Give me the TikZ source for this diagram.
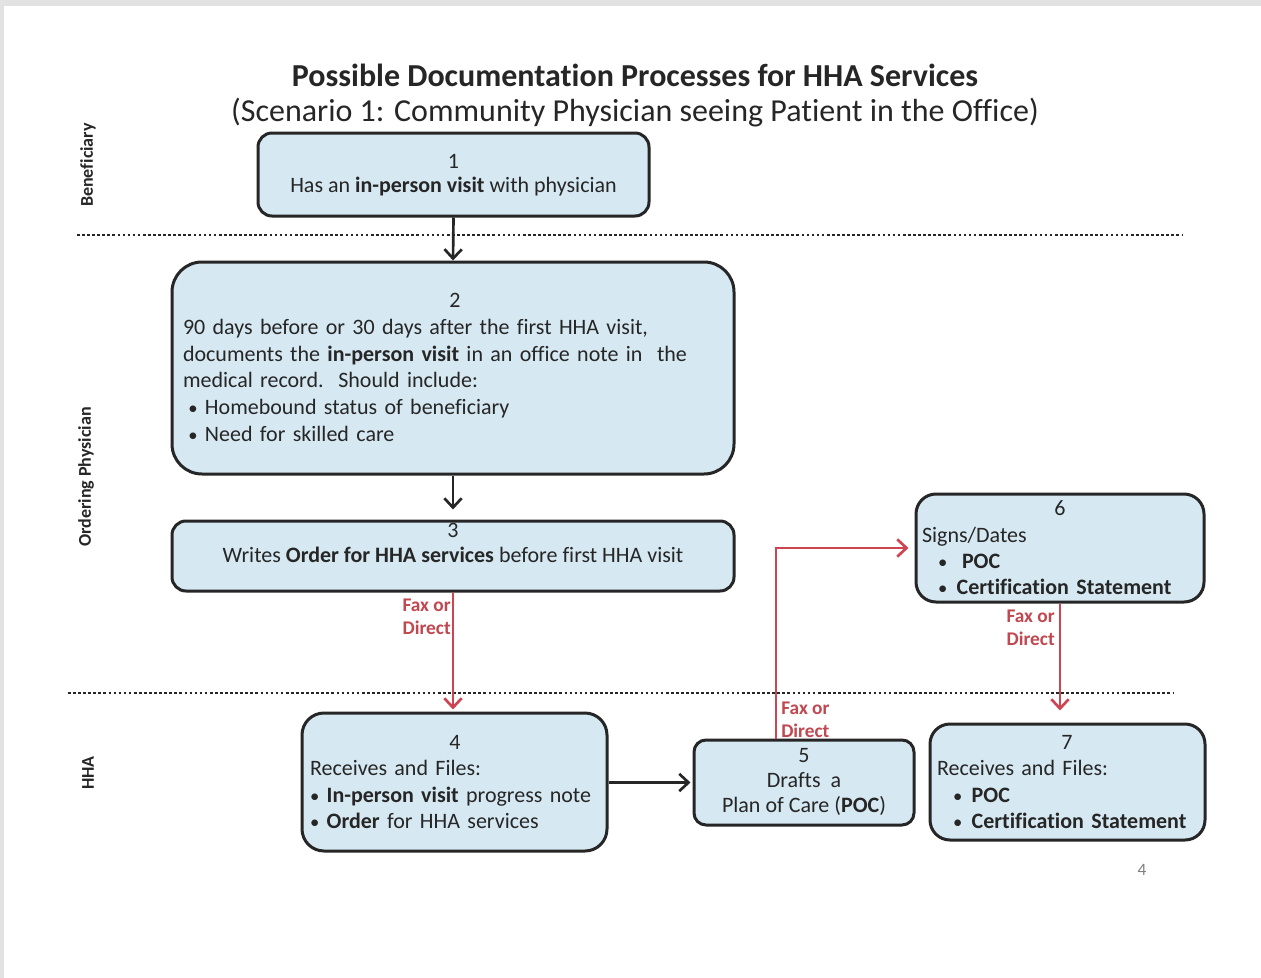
\documentclass[tikz,border=0pt]{standalone}
\usepackage{fontspec}
\setmainfont{Carlito}[Ligatures=NoCommon]
\usetikzlibrary{arrows.meta,calc}
\definecolor{boxfill}{RGB}{214,232,241}
\definecolor{boxline}{RGB}{38,38,38}
\definecolor{faxred}{RGB}{205,68,82}
\definecolor{labred}{RGB}{192,72,80}
\definecolor{pageedge}{RGB}{226,226,226}
\newcommand{\smallbul}{{\fontsize{14}{14}\selectfont\textbullet}}
\begin{document}
\begin{tikzpicture}[x=0.75pt,y=-0.75pt,
  stepbox/.style={draw=boxline,line width=2.25pt,fill=boxfill,inner sep=0pt},
  boxtext/.style={inner sep=0pt,text=boxline},
  lanename/.style={rotate=90,inner sep=0pt,font=\fontsize{13.5}{15}\selectfont\bfseries,text=boxline},
  lanesep/.style={draw=black!85,line width=2.2pt,dash pattern=on 2pt off 1.8pt},
  flow/.style={draw=boxline,line width=2pt,-{Straight Barb[length=7pt,width=13pt,line width=2pt]}},
  fax/.style={draw=faxred,line width=2pt,-{Straight Barb[length=7pt,width=13pt,line width=2pt]}},
  faxlabel/.style={inner sep=0pt,text=labred,font=\fontsize{14.5}{17.3}\selectfont\bfseries}
]
% page area and its shaded top and left edges
\useasboundingbox (0,0) rectangle (1261,978);
\fill[white] (0,0) rectangle (1261,978);
\fill[pageedge] (0,0) rectangle (1261,6);
\fill[pageedge] (0,0) rectangle (4,978);

% title
\node[inner sep=0pt,font=\fontsize{24}{28}\selectfont\bfseries,text=boxline] (title) at (635,75)
  {Possible Documentation Processes for HHA Services};
\node[inner sep=0pt,font=\fontsize{24}{28}\selectfont,text=boxline] (subtitle) at (635,113)
  {(Scenario 1: Community Physician seeing Patient in the Office)};

% swim lanes
\node[lanename] (laneben) at (88,165) {Beneficiary};
\node[lanename] (laneord) at (86,477) {Ordering Physician};
\node[lanename] (lanehha) at (88,773) {HHA};
\draw[lanesep] (77,235) -- (1182,235);
\draw[lanesep] (68,693) -- (1174,693);

% process boxes
\node[stepbox,rounded corners=10.5pt,minimum width=293.25pt,minimum height=62.25pt] (b1) at (453.5,174.5) {};
\node[stepbox,rounded corners=22.5pt,minimum width=421.5pt,minimum height=159pt] (b2) at (453,368) {};
\node[stepbox,rounded corners=10.5pt,minimum width=421.5pt,minimum height=52.5pt] (b3) at (453,556) {};
\node[stepbox,rounded corners=16.5pt,minimum width=228.75pt,minimum height=103.5pt] (b4) at (454.5,782) {};
\node[stepbox,rounded corners=9pt,minimum width=165pt,minimum height=63.75pt] (b5) at (804,782.5) {};
\node[stepbox,rounded corners=15pt,minimum width=216pt,minimum height=81pt] (b6) at (1060,548) {};
\node[stepbox,rounded corners=15pt,minimum width=206.25pt,minimum height=87pt] (b7) at (1067.5,782) {};

% box texts
\node[boxtext,align=center,font=\fontsize{16.5}{18}\selectfont] (t1) at (453.5,175)
  {1\\Has an \textbf{in-person visit} with physician};
\node[boxtext,text width=408pt,align=left,font=\fontsize{16.5}{20}\selectfont] (t2) at (455,367.5)
  {\makebox[\linewidth]{2}\\
   90 days before or 30 days after the first HHA visit,\\
   documents the \textbf{in-person visit} in an office note in\ \ the\\
   medical record.\ \ Should include:\\
   \hspace*{4pt}\smallbul\ Homebound status of beneficiary\\
   \hspace*{4pt}\smallbul\ Need for skilled care};
\node[boxtext,align=center,font=\fontsize{16.5}{18.75}\selectfont] (t3) at (453,543)
  {3\\Writes \textbf{Order for HHA services} before first HHA visit};
\node[boxtext,text width=217.5pt,align=left,font=\fontsize{16.5}{19.75}\selectfont] (t4) at (455,782)
  {\makebox[\linewidth]{4}\\
   Receives and Files:\\
   \smallbul\ \textbf{In-person visit} progress note\\
   \smallbul\ \textbf{Order} for HHA services};
\node[boxtext,align=center,font=\fontsize{16.5}{19}\selectfont] (t5) at (804,782)
  {5\\Drafts\ \ a\\Plan of Care (\textbf{POC})};
\node[boxtext,text width=207pt,align=left,font=\fontsize{16.5}{19.75}\selectfont] (t6) at (1060,548)
  {\makebox[\linewidth]{6}\\
   Signs/Dates\\
   \hspace*{12pt}\makebox[18pt][l]{\smallbul}\textbf{POC}\\
   \hspace*{12pt}\makebox[14pt][l]{\smallbul}\textbf{Certification Statement}};
\node[boxtext,text width=195pt,align=left,font=\fontsize{16.5}{19.75}\selectfont] (t7) at (1067,782)
  {\makebox[\linewidth]{7}\\
   Receives and Files:\\
   \hspace*{12pt}\makebox[14pt][l]{\smallbul}\textbf{POC}\\
   \hspace*{12pt}\makebox[14pt][l]{\smallbul}\textbf{Certification Statement}};

% connectors
\draw[flow] (b1.south) -- (b2.north);
\draw[flow,shorten >=7.5pt] (b2.south) -- (b2.south |- b3.north);
\draw[fax,shorten >=1.5pt] (b3.south) -- (b3.south |- b4.north);
\draw[flow,shorten >=1.5pt] (b4.east |- b5.west) -- (b5.west);
\draw[fax,shorten >=4.5pt] ($(b5.north)+(-28,0)$) |- (b6.west);
\draw[fax,shorten >=9pt] (b6.south) -- (b6.south |- b7.north);

% transmission labels
\node[faxlabel,anchor=east,align=right] (f34) at (451,616.5) {Fax or\\Direct};
\node[faxlabel,anchor=west,align=left] (f56) at (781,719.5) {Fax or\\Direct};
\node[faxlabel,anchor=east,align=right] (f67) at (1055,627.5) {Fax or\\Direct};

% page number
\node[inner sep=0pt,text=gray,font=\fontsize{13}{15}\selectfont] (pagenum) at (1142,870) {4};
\end{tikzpicture}
\end{document}
